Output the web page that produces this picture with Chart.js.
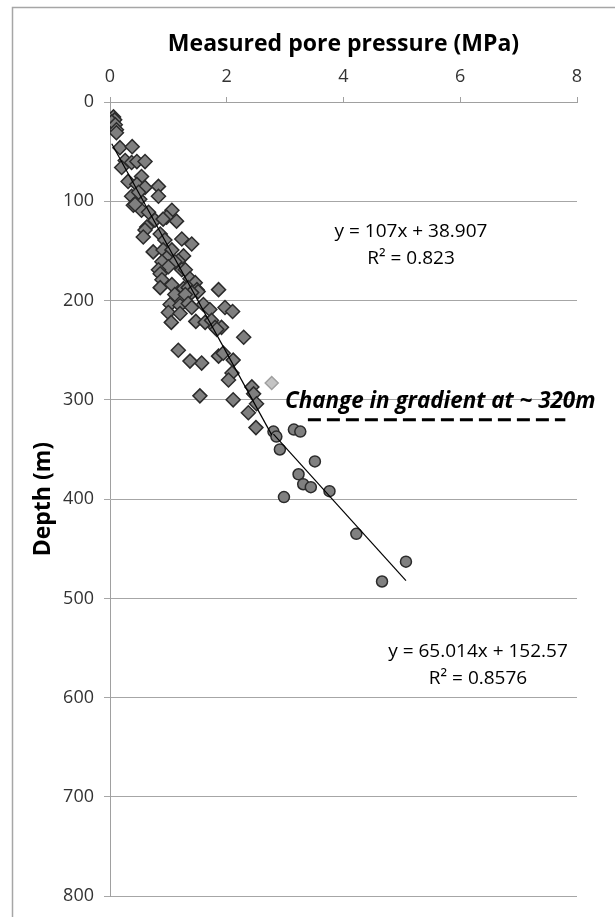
<!DOCTYPE html>
<html>
<head>
<meta charset="utf-8">
<script src="https://cdn.jsdelivr.net/npm/chart.js@4.4.1/dist/chart.umd.min.js"></script>
<style>
  html, body { margin: 0; padding: 0; background: #fff; }
  canvas { display: block; }
</style>
</head>
<body>
<canvas id="chart" width="615" height="917"></canvas>
<script>
// shallow section (diamonds)
const diamondPressure = [0.06, 0.08, 0.03, 0.09, 0.11, 0.11, 0.17, 0.38, 0.26, 0.37,
  0.46, 0.60, 0.20, 0.54, 0.31, 0.46, 0.60, 0.83, 0.83, 0.37,
  0.51, 0.40, 0.54, 0.66, 1.06, 0.97, 1.14, 0.77, 0.91, 0.63,
  0.60, 0.57, 0.86, 0.94, 1.23, 1.40, 0.74, 0.91, 1.06, 1.26,
  0.97, 1.17, 0.89, 1.11, 1.00, 0.83, 1.23, 1.29, 0.86, 1.37,
  1.46, 0.89, 1.06, 0.86, 1.26, 1.34, 1.49, 1.51, 1.40, 1.11,
  1.29, 1.86, 1.03, 1.20, 1.34, 1.40, 1.60, 1.71, 1.97, 2.10,
  1.00, 1.05, 1.20, 1.47, 1.63, 1.74, 1.80, 1.91, 1.83, 2.29,
  1.86, 1.94, 2.11, 1.57, 1.37, 1.17, 2.09, 2.03, 2.43, 2.46,
  1.54, 2.11, 2.51, 2.37, 2.50, 0.43, 0.49];
const diamondDepth = [15, 18, 20, 23, 28, 31, 46, 45, 59, 61,
  60, 60, 66, 75, 80, 83, 86, 85, 95, 95,
  98, 104, 109, 111, 109, 116, 120, 119, 118, 126,
  129, 136, 133, 139, 138, 143, 151, 149, 149, 155,
  157, 160, 161, 161, 166, 169, 169, 169, 173, 178,
  182, 179, 184, 187, 188, 187, 189, 191, 192, 194,
  194, 189, 204, 205, 203, 207, 204, 209, 207, 211,
  212, 222, 213, 221, 222, 220, 227, 227, 229, 237,
  256, 253, 260, 263, 261, 250, 273, 280, 287, 294,
  296, 300, 304, 313, 328, 103, 91];

// faint point
const palePressure = [2.77];
const paleDepth = [283];

// deep section (circles)
const circlePressure = [2.80, 2.85, 3.15, 3.26, 2.91, 3.51, 3.23, 3.31, 3.44, 3.76, 2.98, 4.22, 5.07, 4.66];
const circleDepth = [332, 337, 330, 332, 350, 362, 375, 385, 388, 392, 398, 435, 463, 483];

// trendlines as printed on the chart
const upperSlope = 107, upperIntercept = 38.907;
const lowerSlope = 65.014, lowerIntercept = 152.57;

// gradient change marker
const changeDepth = 320;
const changePressure = [3.39, 7.8];

const xTicks = [0, 2, 4, 6, 8];
const yTicks = [0, 100, 200, 300, 400, 500, 600, 700, 800];

const toPoints = (xs, ys) => xs.map((x, i) => ({ x: x, y: ys[i] }));

function fitLine(slope, intercept, xs) {
  const lo = Math.min(...xs), hi = Math.max(...xs);
  return [{ x: lo, y: slope * lo + intercept }, { x: hi, y: slope * hi + intercept }];
}

const FONT = '"Open Sans", "DejaVu Sans", sans-serif';

const decorations = {
  id: 'decorations',
  beforeDraw(chart) {
    const ctx = chart.ctx;
    ctx.save();
    ctx.strokeStyle = '#a6a6a6';
    ctx.lineWidth = 1.5;
    ctx.beginPath();
    ctx.moveTo(12.5, 917);
    ctx.lineTo(12.5, 7.5);
    ctx.lineTo(615, 7.5);
    ctx.stroke();
    ctx.restore();
  },
  afterDraw(chart) {
    const ctx = chart.ctx;
    ctx.save();
    ctx.fillStyle = '#000';
    ctx.textBaseline = 'middle';
    ctx.textAlign = 'center';
    ctx.font = '19px ' + FONT;
    ctx.fillText('y = 107x + 38.907', 411, 232);
    ctx.fillText('R\u00B2 = 0.823', 411, 259);
    ctx.fillText('y = 65.014x + 152.57', 478, 652);
    ctx.fillText('R\u00B2 = 0.8576', 478, 679);

    // fit the bold italic note to its width in the reference
    ctx.textAlign = 'left';
    const note = 'Change in gradient at ~ 320m';
    ctx.font = 'italic bold 20px ' + FONT;
    const size = 20 * 310 / ctx.measureText(note).width;
    ctx.font = 'italic bold ' + size.toFixed(1) + 'px ' + FONT;
    ctx.fillText(note, 285, 402);
    ctx.restore();
  }
};

function draw() {
  const ctx = document.getElementById('chart').getContext('2d');
  new Chart(ctx, {
    type: 'scatter',
    data: {
      datasets: [
        {
          data: fitLine(upperSlope, upperIntercept, diamondPressure.concat(palePressure)),
          showLine: true, borderColor: '#000', borderWidth: 1.2,
          pointRadius: 0, order: 0
        },
        {
          data: fitLine(lowerSlope, lowerIntercept, circlePressure),
          showLine: true, borderColor: '#000', borderWidth: 1.2,
          pointRadius: 0, order: 0
        },
        {
          data: changePressure.map(x => ({ x: x, y: changeDepth })),
          showLine: true, borderColor: '#000', borderWidth: 3,
          borderDash: [13, 6], pointRadius: 0, order: 0
        },
        {
          data: toPoints(diamondPressure, diamondDepth),
          pointStyle: 'rectRot', pointRadius: 7,
          backgroundColor: '#7f7f7f', borderColor: '#2b2b2b', borderWidth: 1.5,
          order: 2
        },
        {
          data: toPoints(palePressure, paleDepth),
          pointStyle: 'rectRot', pointRadius: 6.5,
          backgroundColor: '#c4c4c4', borderColor: '#a0a0a0', borderWidth: 1.5,
          order: 2
        },
        {
          data: toPoints(circlePressure, circleDepth),
          pointStyle: 'circle', pointRadius: 5.5,
          backgroundColor: '#808080', borderColor: '#2b2b2b', borderWidth: 1.5,
          order: 2
        }
      ]
    },
    options: {
      responsive: false,
      devicePixelRatio: 1,
      animation: false,
      layout: { padding: { left: 0, top: 0, right: 38, bottom: 13 } },
      plugins: { legend: { display: false }, tooltip: { enabled: false } },
      scales: {
        x: {
          type: 'linear',
          position: 'top',
          min: 0, max: 8,
          afterBuildTicks: s => { s.ticks = xTicks.map(v => ({ value: v })); },
          afterFit: s => { s.height = 102; },
          ticks: { color: '#333', font: { family: FONT, size: 18 }, padding: 9 },
          grid: { drawOnChartArea: false, drawTicks: true, tickLength: 5, color: '#a0a0a0', lineWidth: 1 },
          border: { color: '#a0a0a0', width: 1 },
          title: {
            display: true, text: 'Measured pore pressure (MPa)', color: '#000',
            font: { family: FONT, size: 23, weight: 'bold' }, padding: { top: 31, bottom: 0 }
          }
        },
        y: {
          type: 'linear',
          reverse: true,
          min: 0, max: 800,
          afterBuildTicks: s => { s.ticks = yTicks.map(v => ({ value: v })); },
          afterFit: s => { s.width = 110; },
          ticks: { color: '#333', font: { family: FONT, size: 18 }, padding: 10 },
          grid: { color: '#a6a6a6', lineWidth: 1, tickLength: 6 },
          border: { color: '#a0a0a0', width: 1 },
          title: {
            display: true, text: 'Depth (m)', color: '#000',
            font: { family: FONT, size: 23, weight: 'bold' }, padding: { top: 30, bottom: 0 }
          }
        }
      }
    },
    plugins: [decorations]
  });
}

Promise.all([
  document.fonts.load('18px "Open Sans"'),
  document.fonts.load('bold 23px "Open Sans"'),
  document.fonts.load('italic bold 20px "Open Sans"')
]).then(draw, draw);
</script>
</body>
</html>
